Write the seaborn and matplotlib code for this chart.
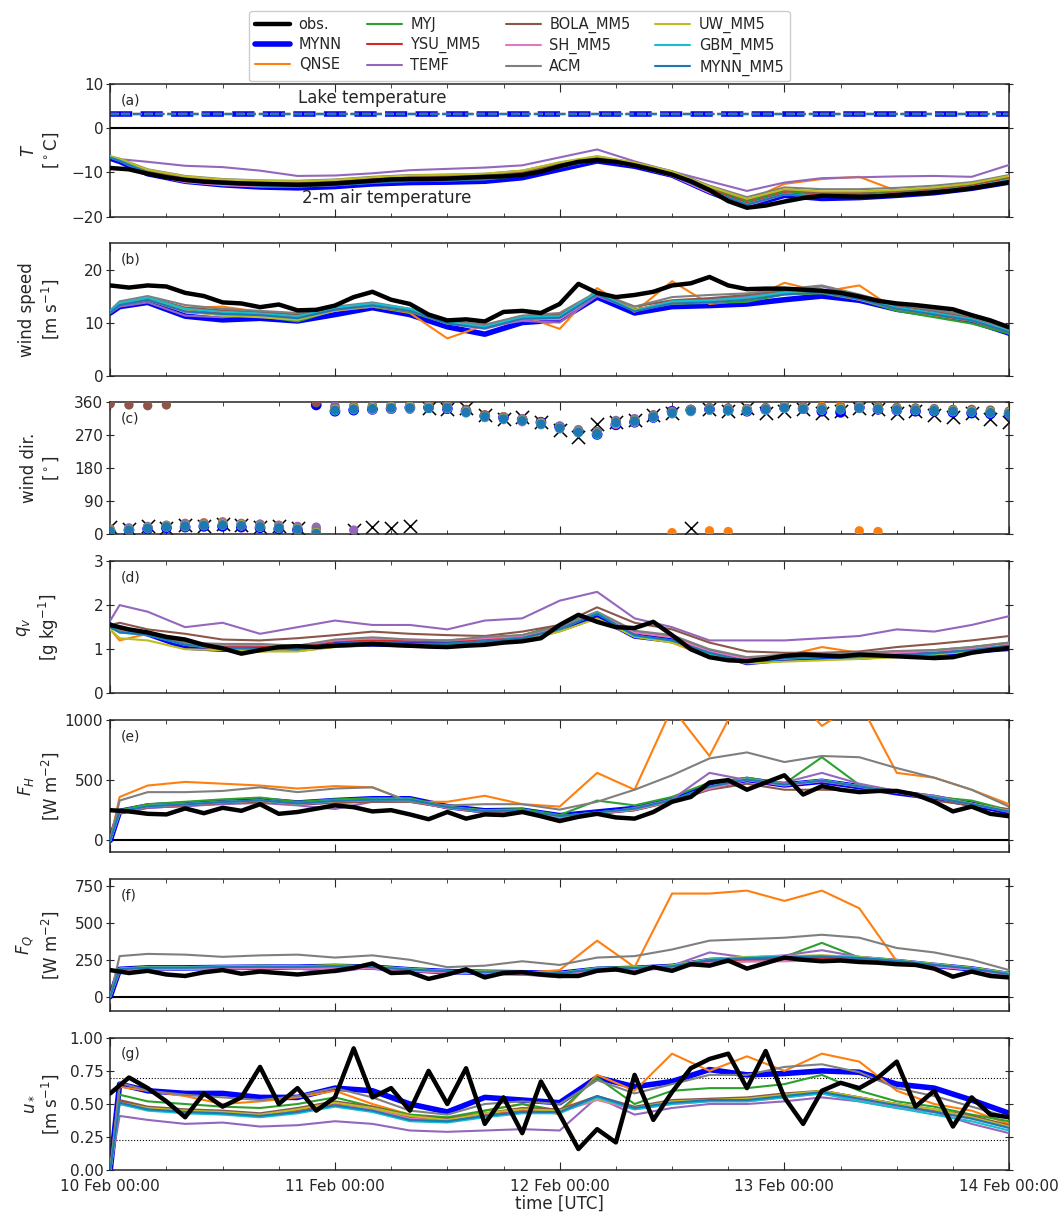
import numpy as np
import pandas as pd
import matplotlib
matplotlib.use('Agg')
import matplotlib.pyplot as plt
import matplotlib.dates as mdates
from matplotlib.lines import Line2D
import seaborn as sns

nan = np.nan
START = '2013-02-10 00:00'
OBS_HOURS = list(range(0, 97, 2))
MOD_HOURS = [0, 1, 4, 8, 12, 16, 20, 24, 28, 32, 36, 40, 44, 48, 52, 56, 60, 64, 68, 72, 76, 80, 84, 88, 92, 96]

MODELS = ['MYNN', 'QNSE', 'MYJ', 'YSU_MM5', 'TEMF', 'BOLA_MM5', 'SH_MM5',
          'ACM', 'UW_MM5', 'GBM_MM5', 'MYNN_MM5']
COLORS = ['#0000ff', '#ff7f0e', '#2ca02c', '#d62728', '#9467bd', '#8c564b',
          '#e377c2', '#7f7f7f', '#bcbd22', '#17becf', '#1f77b4']

# (a) lake + 2-m air temperature [C]
LAKE_T = [3.3, 3.3, 3.3, 3.3, 3.3, 3.3, 3.3, 3.3, 3.3, 3.3, 3.3]
T_OBS = [-9.0, -9.3, -10.3, -11.1, -11.7, -12.1, -12.3, -12.5, -12.6, -12.7,
         -12.8, -12.7, -12.5, -12.2, -11.9, -11.6, -11.5, -11.5, -11.4, -11.2,
         -11.0, -10.9, -10.6, -9.8, -8.6, -7.6, -7.2, -7.6, -8.4, -9.4,
         -10.5, -12.0, -14.0, -16.5, -18.0, -17.5, -16.6, -15.8, -15.3, -15.4,
         -15.5, -15.4, -15.1, -14.8, -14.5, -14.1, -13.6, -12.9, -12.2]
T_MOD = {
    'MYNN':     [-6.8, -7.5, -10.3, -12.0, -12.8, -13.3, -13.5, -13.2, -12.6, -12.3, -12.2, -12.0, -11.2, -9.3, -7.4, -8.6, -10.6, -14.4, -17.6, -15.2, -15.9, -15.7, -15.2, -14.6, -13.6, -12.2],
    'QNSE':     [-6.5, -7.1, -9.7, -11.2, -11.9, -12.2, -12.3, -12.0, -11.4, -11.0, -10.7, -10.5, -9.8, -8.1, -6.6, -8.0, -10.1, -13.6, -16.5, -12.6, -11.5, -11.0, -14.2, -13.8, -12.8, -11.0],
    'MYJ':      [-6.5, -7.2, -9.9, -11.4, -12.1, -12.5, -12.6, -12.3, -11.8, -11.4, -11.2, -10.9, -10.1, -8.2, -6.7, -8.1, -10.1, -13.6, -16.6, -14.3, -14.9, -14.8, -14.4, -13.8, -12.9, -11.2],
    'YSU_MM5':  [-6.6, -7.3, -10.0, -11.6, -12.3, -12.7, -12.8, -12.5, -12.0, -11.6, -11.5, -11.2, -10.4, -8.5, -6.9, -8.3, -10.3, -13.9, -17.0, -14.7, -15.3, -15.1, -14.7, -14.1, -13.1, -11.5],
    'TEMF':     [-6.5, -7.0, -7.6, -8.5, -8.8, -9.6, -10.8, -10.7, -10.2, -9.5, -9.2, -8.9, -8.4, -6.6, -4.8, -7.5, -9.8, -12.0, -14.2, -12.3, -11.3, -11.1, -10.9, -10.8, -11.0, -8.3],
    'BOLA_MM5': [-6.4, -7.0, -9.6, -11.1, -11.8, -12.1, -12.2, -11.9, -11.3, -10.9, -10.8, -10.6, -9.9, -8.0, -6.5, -7.9, -9.9, -13.3, -16.2, -14.0, -14.6, -14.5, -14.1, -13.5, -12.6, -10.9],
    'SH_MM5':   [-6.6, -7.4, -10.4, -12.2, -12.9, -13.2, -13.2, -12.9, -12.3, -11.9, -11.8, -11.5, -10.7, -8.8, -7.1, -8.6, -10.8, -14.6, -17.5, -15.0, -15.5, -15.3, -14.8, -14.2, -13.3, -11.7],
    'ACM':      [-6.4, -6.9, -9.3, -10.8, -11.5, -11.8, -11.9, -11.6, -11.0, -10.6, -10.5, -10.3, -9.6, -7.8, -6.4, -7.8, -9.7, -13.0, -15.6, -13.4, -13.8, -13.8, -13.5, -13.0, -12.2, -10.6],
    'UW_MM5':   [-6.3, -6.9, -9.4, -10.9, -11.6, -11.9, -12.0, -11.7, -11.1, -10.7, -10.5, -10.3, -9.6, -7.7, -6.3, -7.8, -9.8, -13.2, -16.0, -13.8, -14.3, -14.3, -14.0, -13.4, -12.5, -10.8],
    'GBM_MM5':  [-6.6, -7.3, -10.1, -11.8, -12.5, -12.9, -13.0, -12.7, -12.2, -11.8, -11.7, -11.4, -10.6, -8.7, -7.0, -8.4, -10.5, -14.2, -17.2, -14.9, -15.5, -15.3, -14.9, -14.3, -13.3, -11.7],
    'MYNN_MM5': [-6.7, -7.4, -10.2, -11.9, -12.6, -13.0, -13.1, -12.9, -12.4, -12.0, -11.9, -11.6, -10.8, -8.9, -7.1, -8.5, -10.6, -14.3, -17.3, -15.0, -15.6, -15.4, -15.0, -14.4, -13.4, -11.9],
}

# (b) wind speed [m/s]
WS_OBS = [17.0, 16.6, 17.0, 16.8, 15.6, 15.0, 13.8, 13.6, 12.9, 13.4,
          12.3, 12.4, 13.2, 14.8, 15.8, 14.3, 13.5, 11.5, 10.4, 10.6,
          10.2, 12.0, 12.2, 11.8, 13.5, 17.3, 15.6, 14.8, 15.2, 15.8,
          17.0, 17.4, 18.6, 17.0, 16.3, 16.4, 16.4, 16.2, 16.0, 15.6,
          14.9, 14.1, 13.6, 13.3, 12.9, 12.5, 11.4, 10.4, 9.1]
WS_MOD = {
    'MYNN':     [11.8, 13.0, 13.8, 11.2, 10.5, 10.8, 10.3, 11.5, 12.8, 11.5, 9.2, 7.8, 10.0, 10.5, 14.8, 11.8, 13.0, 13.2, 13.5, 14.3, 15.0, 14.2, 12.5, 11.5, 10.3, 8.0],
    'QNSE':     [12.0, 13.6, 14.6, 12.8, 13.0, 12.0, 11.2, 12.3, 13.0, 11.8, 7.0, 9.5, 11.3, 8.8, 16.5, 12.0, 17.8, 13.5, 14.2, 17.5, 15.8, 17.0, 12.3, 11.3, 10.3, 8.0],
    'MYJ':      [11.9, 13.3, 14.2, 12.0, 11.5, 11.2, 10.2, 12.3, 13.0, 12.0, 9.8, 9.3, 11.0, 11.2, 15.2, 12.5, 13.5, 13.7, 13.9, 15.3, 15.5, 14.3, 12.2, 11.0, 9.8, 7.9],
    'YSU_MM5':  [12.1, 13.5, 14.5, 12.4, 11.8, 11.6, 10.8, 12.5, 13.3, 12.3, 10.0, 9.0, 10.8, 11.0, 15.5, 12.4, 13.8, 13.9, 14.5, 15.5, 15.8, 14.5, 12.7, 11.5, 10.4, 8.2],
    'TEMF':     [11.8, 13.0, 13.8, 11.3, 11.0, 11.5, 10.8, 12.2, 13.0, 12.4, 10.0, 9.2, 10.3, 10.0, 15.0, 12.3, 14.0, 14.4, 15.0, 16.0, 16.8, 15.2, 13.5, 12.4, 11.2, 8.4],
    'BOLA_MM5': [12.2, 13.8, 14.8, 12.8, 12.3, 12.0, 11.5, 12.8, 13.5, 12.5, 10.2, 9.4, 11.2, 11.5, 15.6, 13.0, 14.2, 14.6, 15.2, 16.0, 16.2, 14.8, 13.2, 12.2, 10.8, 8.2],
    'SH_MM5':   [12.0, 13.4, 14.3, 12.0, 11.5, 11.3, 10.6, 12.2, 13.2, 12.2, 9.8, 8.8, 10.6, 10.6, 15.3, 12.2, 13.6, 13.8, 14.4, 15.4, 15.7, 14.3, 12.6, 11.6, 10.4, 8.3],
    'ACM':      [12.3, 14.0, 15.0, 13.3, 12.6, 12.2, 11.8, 13.0, 13.8, 12.6, 10.3, 9.6, 11.3, 11.8, 15.8, 13.0, 14.8, 15.2, 15.5, 16.3, 17.0, 15.3, 13.4, 12.4, 11.2, 8.6],
    'UW_MM5':   [12.0, 13.5, 14.4, 12.3, 11.3, 11.0, 10.5, 12.3, 13.1, 12.3, 10.0, 9.1, 10.8, 11.0, 15.4, 12.4, 13.7, 13.8, 14.4, 15.5, 15.8, 14.5, 12.7, 11.6, 10.5, 8.3],
    'GBM_MM5':  [12.1, 13.7, 14.7, 12.6, 12.0, 11.7, 11.2, 12.8, 13.6, 12.6, 10.1, 9.2, 11.0, 11.2, 15.7, 12.2, 14.0, 14.2, 14.7, 15.7, 16.2, 14.7, 12.8, 11.8, 10.6, 8.4],
    'MYNN_MM5': [11.9, 13.3, 14.3, 12.1, 11.6, 11.4, 10.8, 12.4, 13.2, 12.2, 9.8, 8.9, 10.7, 10.9, 15.3, 12.1, 13.6, 13.8, 14.3, 15.3, 15.7, 14.4, 12.6, 11.5, 10.4, 8.2],
}

# (c) wind direction [deg], every 2 h
WD_OBS = [20, 15, 22, 18, 25, 22, 28, 25, 20, 22,
          18, nan, nan, 12, 20, 18, 22, 345, 340, 345,
          325, 315, 320, 305, 285, 265, 300, 305, 310, 325,
          330, 18, 340, 335, 345, 330, 335, 340, 330, 335,
          345, 340, 330, 335, 325, 320, 330, 315, 305]
WD_MOD = {
    'MYNN':     [8, 12, 15, 18, 20, 22, 22, 20, 18, 15, 12, 352, 335, 338, 340, 342, 345, 345, 342, 335, 322, 318, 312, 305, 292, 280, 272, 298, 305, 318, 335, 338, 340, 338, 335, 340, 345, 342, 335, 332, 345, 340, 338, 335, 335, 332, 330, 328, 328],
    'QNSE':     [12, 15, 20, 25, 30, 32, 35, 30, 28, 25, 20, 15, 345, 348, 348, 350, 350, 352, 350, 338, 325, 320, 315, 302, 290, 280, 278, 300, 310, 320, 5, 335, 10, 8, 342, 340, 350, 345, 348, 350, 10, 8, 345, 342, 340, 338, 338, 336, 335],
    'MYJ':      [10, 13, 18, 22, 25, 27, 28, 26, 22, 20, 15, 5, 340, 343, 345, 346, 346, 345, 343, 332, 318, 314, 308, 300, 288, 278, 275, 302, 308, 320, 330, 336, 340, 340, 338, 340, 345, 342, 340, 342, 345, 342, 340, 340, 338, 336, 335, 332, 330],
    'YSU_MM5':  [10, 14, 20, 24, 26, 28, 30, 27, 24, 21, 16, 8, 342, 345, 346, 348, 348, 346, 344, 334, 320, 316, 310, 302, 290, 280, 276, 306, 310, 322, 332, 338, 342, 341, 340, 342, 346, 344, 342, 344, 347, 344, 342, 341, 340, 338, 336, 334, 332],
    'TEMF':     [15, 18, 22, 25, 30, 31, 32, 30, 28, 25, 22, 20, 350, 12, 338, 340, 340, 345, 348, 336, 322, 318, 315, 305, 295, 285, 280, 310, 315, 325, 333, 336, 338, 337, 336, 340, 343, 341, 339, 341, 344, 341, 338, 337, 336, 335, 334, 332, 330],
    'BOLA_MM5': [355, 352, 350, 352, 20, 25, 26, 24, 22, 18, 10, 358, 345, 348, 350, 352, 352, 350, 350, 340, 325, 318, 312, 305, 292, 282, 278, 308, 312, 325, 335, 340, 345, 344, 342, 345, 350, 348, 345, 347, 350, 348, 345, 344, 342, 340, 340, 338, 335],
    'SH_MM5':   [8, 11, 16, 20, 22, 24, 25, 23, 20, 17, 14, 2, 338, 341, 342, 344, 344, 343, 342, 330, 318, 312, 306, 298, 287, 276, 273, 300, 305, 318, 328, 334, 338, 337, 336, 338, 343, 340, 338, 339, 342, 340, 338, 337, 336, 334, 333, 330, 328],
    'ACM':      [12, 15, 20, 24, 26, 28, 30, 28, 25, 22, 18, 10, 343, 346, 348, 350, 350, 349, 348, 336, 322, 318, 312, 304, 292, 282, 277, 308, 312, 324, 334, 340, 344, 343, 342, 344, 348, 346, 344, 346, 348, 346, 344, 342, 340, 338, 337, 335, 333],
    'UW_MM5':   [10, 13, 18, 22, 24, 26, 28, 26, 22, 19, 15, 5, 340, 343, 344, 346, 346, 345, 344, 333, 320, 315, 310, 302, 289, 279, 275, 304, 308, 320, 330, 336, 340, 339, 338, 340, 345, 342, 340, 342, 345, 342, 340, 339, 338, 336, 335, 333, 331],
    'GBM_MM5':  [8, 11, 16, 20, 22, 24, 26, 24, 20, 17, 13, 0, 336, 339, 340, 343, 343, 342, 343, 331, 318, 313, 308, 299, 288, 277, 272, 302, 306, 318, 328, 334, 338, 336, 335, 338, 343, 340, 338, 339, 343, 340, 338, 337, 336, 334, 332, 330, 328],
    'MYNN_MM5': [9, 12, 17, 21, 23, 25, 26, 24, 21, 18, 14, 3, 338, 341, 342, 344, 344, 343, 344, 332, 320, 314, 309, 300, 289, 278, 274, 304, 308, 320, 330, 336, 340, 338, 337, 340, 344, 341, 339, 340, 344, 341, 339, 338, 337, 335, 333, 331, 329],
}

# (d) specific humidity [g/kg]
QV_OBS = [1.55, 1.45, 1.38, 1.28, 1.22, 1.1, 1.02, 0.9, 0.98, 1.05,
          1.07, 1.05, 1.08, 1.1, 1.12, 1.1, 1.08, 1.06, 1.05, 1.08,
          1.1, 1.15, 1.18, 1.25, 1.55, 1.78, 1.62, 1.5, 1.48, 1.62,
          1.32, 1.0, 0.82, 0.75, 0.73, 0.78, 0.85, 0.88, 0.86, 0.84,
          0.88, 0.86, 0.84, 0.82, 0.8, 0.82, 0.92, 0.98, 1.03]
QV_MOD = {
    'MYNN':     [1.55, 1.45, 1.35, 1.05, 1.0, 1.0, 1.0, 1.1, 1.12, 1.1, 1.12, 1.18, 1.25, 1.45, 1.75, 1.3, 1.2, 0.95, 0.7, 0.78, 0.82, 0.82, 0.88, 0.9, 0.96, 1.02],
    'QNSE':     [1.45, 1.2, 1.35, 1.1, 1.0, 0.95, 1.0, 1.1, 1.15, 1.08, 1.1, 1.18, 1.22, 1.45, 1.82, 1.32, 1.15, 0.82, 0.72, 0.85, 1.05, 0.92, 0.88, 0.9, 0.95, 1.08],
    'MYJ':      [1.5, 1.42, 1.35, 1.15, 1.1, 1.1, 1.05, 1.2, 1.25, 1.2, 1.2, 1.25, 1.32, 1.55, 1.82, 1.4, 1.3, 0.95, 0.8, 0.85, 0.88, 0.9, 0.95, 0.98, 1.05, 1.15],
    'YSU_MM5':  [1.52, 1.43, 1.38, 1.13, 1.08, 1.08, 1.05, 1.18, 1.2, 1.18, 1.18, 1.22, 1.28, 1.5, 1.8, 1.38, 1.28, 0.95, 0.78, 0.85, 0.9, 0.9, 0.95, 0.96, 1.02, 1.1],
    'TEMF':     [1.65, 2.0, 1.85, 1.5, 1.6, 1.35, 1.5, 1.65, 1.55, 1.55, 1.45, 1.65, 1.7, 2.1, 2.3, 1.7, 1.5, 1.2, 1.2, 1.2, 1.25, 1.3, 1.45, 1.4, 1.55, 1.75],
    'BOLA_MM5': [1.55, 1.6, 1.45, 1.35, 1.22, 1.2, 1.25, 1.32, 1.4, 1.35, 1.32, 1.3, 1.4, 1.55, 1.95, 1.6, 1.45, 1.15, 0.95, 0.92, 0.92, 0.95, 1.05, 1.12, 1.2, 1.3],
    'SH_MM5':   [1.5, 1.4, 1.35, 1.15, 1.1, 1.1, 1.08, 1.2, 1.25, 1.22, 1.2, 1.25, 1.3, 1.5, 1.8, 1.38, 1.27, 0.95, 0.78, 0.85, 0.9, 0.88, 0.92, 0.96, 1.02, 1.1],
    'ACM':      [1.52, 1.42, 1.37, 1.15, 1.12, 1.12, 1.08, 1.22, 1.27, 1.22, 1.2, 1.28, 1.32, 1.52, 1.85, 1.42, 1.32, 1.0, 0.82, 0.88, 0.9, 0.92, 0.96, 0.98, 1.05, 1.15],
    'UW_MM5':   [1.45, 1.25, 1.2, 1.0, 0.98, 0.95, 0.95, 1.05, 1.1, 1.08, 1.08, 1.12, 1.18, 1.4, 1.7, 1.28, 1.15, 0.88, 0.68, 0.72, 0.75, 0.78, 0.82, 0.88, 0.95, 1.05],
    'GBM_MM5':  [1.5, 1.38, 1.32, 1.1, 1.03, 1.0, 1.0, 1.12, 1.15, 1.12, 1.12, 1.18, 1.25, 1.45, 1.82, 1.3, 1.2, 0.9, 0.72, 0.78, 0.82, 0.82, 0.86, 0.9, 0.98, 1.08],
    'MYNN_MM5': [1.5, 1.38, 1.33, 1.1, 1.03, 1.02, 1.0, 1.12, 1.15, 1.12, 1.13, 1.18, 1.25, 1.46, 1.8, 1.32, 1.2, 0.92, 0.73, 0.8, 0.82, 0.83, 0.87, 0.91, 0.98, 1.08],
}

# (e) sensible heat flux [W/m2]
FH_OBS = [250, 240, 220, 215, 265, 225, 270, 245, 300, 220,
          235, nan, 290, 275, 240, 250, 215, 175, 235, 180,
          215, 210, 235, 200, 160, 195, 220, 190, 180, 235,
          320, 360, 480, 500, 420, nan, 540, 380, 450, 420,
          400, 410, 410, 380, 320, 240, 280, 220, 200]
FH_MOD = {
    'MYNN':     [0, 240, 285, 300, 320, 335, 310, 330, 345, 345, 280, 245, 250, 205, 235, 265, 340, 450, 505, 460, 490, 445, 395, 355, 300, 235],
    'QNSE':     [0, 360, 455, 485, 470, 455, 430, 450, 440, 320, 320, 370, 300, 280, 560, 420, 1100, 700, 1300, 1300, 950, 1150, 560, 520, 420, 300],
    'MYJ':      [0, 250, 300, 320, 340, 355, 320, 340, 350, 350, 280, 250, 260, 210, 330, 290, 360, 480, 520, 470, 690, 460, 400, 360, 330, 250],
    'YSU_MM5':  [0, 235, 280, 295, 315, 330, 305, 325, 335, 335, 275, 240, 245, 200, 230, 260, 330, 440, 505, 465, 495, 450, 400, 360, 305, 240],
    'TEMF':     [0, 220, 270, 285, 300, 310, 290, 260, 320, 320, 270, 230, 240, 185, 220, 270, 340, 560, 500, 480, 560, 470, 410, 370, 300, 245],
    'BOLA_MM5': [0, 225, 275, 290, 310, 320, 300, 310, 320, 320, 270, 235, 240, 195, 220, 250, 320, 420, 470, 420, 420, 415, 400, 330, 290, 260],
    'SH_MM5':   [0, 230, 280, 295, 315, 330, 300, 325, 335, 330, 270, 240, 240, 195, 225, 255, 325, 430, 500, 455, 490, 445, 395, 355, 300, 235],
    'ACM':      [0, 330, 400, 400, 410, 440, 400, 430, 440, 320, 290, 300, 300, 255, 320, 420, 540, 680, 730, 650, 700, 690, 600, 520, 420, 280],
    'UW_MM5':   [0, 235, 285, 300, 320, 330, 305, 325, 335, 340, 275, 245, 245, 200, 230, 260, 330, 445, 510, 465, 500, 450, 400, 360, 305, 245],
    'GBM_MM5':  [0, 240, 285, 300, 318, 332, 305, 328, 338, 340, 275, 242, 248, 200, 230, 262, 335, 445, 508, 462, 498, 450, 400, 358, 302, 240],
    'MYNN_MM5': [0, 238, 283, 298, 318, 332, 306, 327, 337, 338, 276, 243, 247, 202, 232, 263, 333, 445, 505, 463, 495, 448, 398, 356, 300, 238],
}

# (f) latent heat flux [W/m2]
FQ_OBS = [180, 160, 175, 150, 140, 165, 180, 155, 170, 160,
          150, nan, 175, 195, 225, 160, 165, 120, 150, 185,
          130, 160, 165, 150, 140, 140, 175, 185, 160, 200,
          175, 220, 210, 245, 190, nan, 265, 250, 240, 245,
          235, 230, 220, 215, 190, 135, 170, 140, 130]
FQ_MOD = {
    'MYNN':     [0, 185, 195, 195, 198, 200, 200, 205, 200, 182, 170, 165, 162, 158, 185, 192, 205, 245, 255, 262, 265, 258, 238, 212, 188, 150],
    'QNSE':     [0, 185, 195, 190, 195, 200, 190, 200, 195, 175, 165, 170, 160, 180, 380, 200, 700, 700, 720, 650, 720, 600, 240, 220, 190, 150],
    'MYJ':      [0, 190, 200, 200, 205, 210, 205, 215, 205, 190, 175, 170, 168, 160, 195, 200, 210, 250, 265, 270, 365, 265, 245, 220, 195, 160],
    'YSU_MM5':  [0, 182, 192, 193, 196, 198, 198, 202, 198, 180, 168, 163, 160, 155, 182, 188, 200, 240, 250, 258, 262, 255, 235, 210, 186, 148],
    'TEMF':     [0, 170, 180, 190, 195, 200, 190, 165, 200, 185, 170, 160, 150, 130, 175, 190, 210, 300, 265, 280, 315, 270, 240, 210, 185, 150],
    'BOLA_MM5': [0, 180, 190, 190, 192, 195, 195, 200, 195, 178, 166, 162, 158, 152, 180, 186, 195, 230, 240, 245, 250, 245, 230, 208, 185, 145],
    'SH_MM5':   [0, 178, 188, 188, 190, 192, 192, 195, 190, 175, 162, 158, 155, 150, 175, 182, 192, 228, 238, 240, 245, 240, 225, 205, 182, 145],
    'ACM':      [0, 275, 290, 285, 270, 280, 285, 265, 280, 250, 200, 210, 240, 215, 265, 275, 320, 380, 390, 400, 420, 400, 330, 300, 250, 180],
    'UW_MM5':   [0, 190, 200, 200, 205, 208, 205, 212, 205, 188, 175, 170, 168, 162, 192, 198, 212, 255, 270, 275, 280, 270, 248, 222, 196, 160],
    'GBM_MM5':  [0, 188, 198, 198, 202, 205, 203, 208, 202, 186, 174, 168, 165, 160, 190, 196, 208, 252, 265, 272, 276, 265, 245, 218, 192, 155],
    'MYNN_MM5': [0, 186, 196, 196, 200, 202, 200, 206, 200, 184, 172, 166, 163, 158, 188, 194, 205, 248, 260, 268, 272, 262, 242, 215, 190, 152],
}

# (g) friction velocity [m/s]
US_OBS = [0.58, 0.7, 0.62, 0.52, 0.4, 0.58, 0.48, 0.55, 0.78, 0.5,
          0.62, 0.45, 0.55, 0.92, 0.55, 0.62, 0.45, 0.75, 0.5, 0.77,
          0.35, 0.55, 0.28, 0.67, 0.42, 0.16, 0.31, 0.21, 0.72, 0.38,
          0.59, 0.77, 0.84, 0.88, 0.62, 0.9, 0.55, 0.35, 0.6, 0.66,
          0.62, 0.7, 0.82, 0.48, 0.6, 0.33, 0.55, 0.42, 0.4]
US_MOD = {
    'MYNN':     [0, 0.65, 0.6, 0.58, 0.58, 0.55, 0.55, 0.62, 0.6, 0.5, 0.44, 0.55, 0.53, 0.51, 0.7, 0.63, 0.67, 0.76, 0.72, 0.73, 0.75, 0.74, 0.65, 0.62, 0.53, 0.43],
    'QNSE':     [0, 0.63, 0.6, 0.56, 0.5, 0.52, 0.55, 0.6, 0.5, 0.42, 0.38, 0.45, 0.5, 0.42, 0.72, 0.6, 0.88, 0.75, 0.86, 0.75, 0.88, 0.82, 0.6, 0.5, 0.45, 0.35],
    'MYJ':      [0, 0.57, 0.52, 0.5, 0.48, 0.47, 0.5, 0.55, 0.48, 0.42, 0.4, 0.45, 0.5, 0.45, 0.7, 0.5, 0.6, 0.62, 0.62, 0.65, 0.72, 0.6, 0.52, 0.48, 0.42, 0.37],
    'YSU_MM5':  [0, 0.52, 0.47, 0.45, 0.44, 0.42, 0.45, 0.5, 0.46, 0.4, 0.38, 0.42, 0.45, 0.45, 0.55, 0.47, 0.52, 0.53, 0.53, 0.56, 0.6, 0.55, 0.5, 0.45, 0.4, 0.33],
    'TEMF':     [0, 0.41, 0.38, 0.35, 0.36, 0.33, 0.34, 0.37, 0.35, 0.3, 0.29, 0.3, 0.31, 0.3, 0.55, 0.42, 0.47, 0.5, 0.5, 0.52, 0.55, 0.52, 0.47, 0.44, 0.35, 0.28],
    'BOLA_MM5': [0, 0.53, 0.48, 0.46, 0.45, 0.43, 0.47, 0.52, 0.48, 0.41, 0.39, 0.43, 0.47, 0.46, 0.56, 0.48, 0.53, 0.54, 0.55, 0.58, 0.6, 0.55, 0.5, 0.46, 0.41, 0.34],
    'SH_MM5':   [0, 0.5, 0.46, 0.44, 0.43, 0.41, 0.44, 0.49, 0.46, 0.39, 0.37, 0.41, 0.44, 0.44, 0.53, 0.46, 0.5, 0.52, 0.52, 0.55, 0.58, 0.53, 0.48, 0.44, 0.39, 0.32],
    'ACM':      [0, 0.66, 0.6, 0.57, 0.55, 0.53, 0.56, 0.62, 0.55, 0.45, 0.42, 0.5, 0.52, 0.5, 0.68, 0.58, 0.65, 0.72, 0.72, 0.78, 0.8, 0.74, 0.62, 0.56, 0.48, 0.4],
    'UW_MM5':   [0, 0.51, 0.47, 0.45, 0.44, 0.42, 0.46, 0.51, 0.47, 0.41, 0.38, 0.43, 0.46, 0.45, 0.54, 0.47, 0.52, 0.53, 0.54, 0.57, 0.6, 0.55, 0.5, 0.46, 0.4, 0.33],
    'GBM_MM5':  [0, 0.5, 0.45, 0.43, 0.42, 0.4, 0.43, 0.48, 0.44, 0.37, 0.36, 0.4, 0.43, 0.43, 0.55, 0.46, 0.5, 0.52, 0.52, 0.55, 0.58, 0.52, 0.47, 0.42, 0.37, 0.3],
    'MYNN_MM5': [0, 0.51, 0.46, 0.44, 0.43, 0.41, 0.44, 0.49, 0.45, 0.38, 0.37, 0.41, 0.44, 0.44, 0.56, 0.47, 0.51, 0.53, 0.53, 0.56, 0.59, 0.54, 0.49, 0.44, 0.39, 0.32],
}
US_REF = [0.7, 0.23]

sns.set_style('ticks')
plt.rcParams['font.family'] = ['DejaVu Sans']
plt.rcParams['axes.linewidth'] = 1.1

t0 = pd.Timestamp(START)
t_obs = t0 + pd.to_timedelta(OBS_HOURS, unit='h')
t_mod = t0 + pd.to_timedelta(MOD_HOURS, unit='h')
LW = {m: 1.5 for m in MODELS}
LW['MYNN'] = 4.0


def draw_lines(ax, obs, mods):
    sns.lineplot(x=t_obs, y=obs, ax=ax, color='k', lw=3.2, zorder=3)
    for m, c in zip(MODELS, COLORS):
        sns.lineplot(x=t_mod, y=mods[m], ax=ax, color=c, lw=LW[m],
                     zorder=2.5 if m == 'MYNN' else 2.6)


fig, axes = plt.subplots(7, 1, figsize=(10.6, 12.19), dpi=100, sharex=True)
fig.subplots_adjust(left=0.104, right=0.952, top=0.931, bottom=0.040, hspace=0.2)

# (a)
ax = axes[0]
for m, c, v in zip(MODELS, COLORS, LAKE_T):
    lw = 4 if m == 'MYNN' else 1.5
    sns.lineplot(x=[t_mod[0], t_mod[-1]], y=[v, v], ax=ax, color=c, lw=lw,
                 linestyle=(0, (4, 1.5)))
draw_lines(ax, T_OBS, T_MOD)
ax.axhline(0, color='k', lw=1.5)
ax.set_ylim(-20, 10)
ax.set_yticks([-20, -10, 0, 10])
ax.set_ylabel('$T$\n[$^\\circ$C]')
ax.text(t0 + pd.Timedelta(hours=28), 6.8, 'Lake temperature', ha='center',
        va='center', fontsize=12)
ax.text(t0 + pd.Timedelta(hours=29.5), -15.8, '2-m air temperature',
        ha='center', va='center', fontsize=12)

# (b)
ax = axes[1]
draw_lines(ax, WS_OBS, WS_MOD)
ax.set_ylim(0, 25)
ax.set_yticks([0, 10, 20])
ax.set_ylabel('wind speed\n[m s$^{-1}$]')

# (c)
ax = axes[2]
sns.scatterplot(x=t_obs, y=WD_OBS, ax=ax, color='k', marker='x', s=90,
                linewidth=1.1, zorder=2)
for m, c in zip(MODELS, COLORS):
    sns.scatterplot(x=t_obs, y=WD_MOD[m], ax=ax, color=c,
                    s=60 if m == 'MYNN' else 45, edgecolor='none', zorder=3)
ax.set_ylim(0, 360)
ax.set_yticks([0, 90, 180, 270, 360])
ax.set_ylabel('wind dir.\n[$^\\circ$]')

# (d)
ax = axes[3]
draw_lines(ax, QV_OBS, QV_MOD)
ax.set_ylim(0, 3)
ax.set_yticks([0, 1, 2, 3])
ax.set_ylabel('$q_v$\n[g kg$^{-1}$]')

# (e)
ax = axes[4]
draw_lines(ax, FH_OBS, FH_MOD)
ax.axhline(0, color='k', lw=1.5)
ax.set_ylim(-100, 1000)
ax.set_yticks([0, 500, 1000])
ax.set_ylabel('$F_H$\n[W m$^{-2}$]')

# (f)
ax = axes[5]
draw_lines(ax, FQ_OBS, FQ_MOD)
ax.axhline(0, color='k', lw=1.5)
ax.set_ylim(-100, 800)
ax.set_yticks([0, 250, 500, 750])
ax.set_ylabel('$F_Q$\n[W m$^{-2}$]')

# (g)
ax = axes[6]
draw_lines(ax, US_OBS, US_MOD)
for v in US_REF:
    ax.axhline(v, color='k', lw=0.8, ls=':')
ax.set_ylim(0, 1)
ax.set_yticks([0, 0.25, 0.5, 0.75, 1.0])
ax.yaxis.set_major_formatter(matplotlib.ticker.FormatStrFormatter('%.2f'))
ax.set_ylabel('$u_*$\n[m s$^{-1}$]')
ax.set_xlabel('time [UTC]', fontsize=12, labelpad=1)

for ax, lab in zip(axes, 'abcdefg'):
    ax.set_xlim(t_mod[0], t_mod[-1])
    ax.text(0.012, 0.93, f'({lab})', transform=ax.transAxes, va='top',
            ha='left', fontsize=10)
    ax.xaxis.set_major_locator(mdates.DayLocator())
    ax.xaxis.set_minor_locator(mdates.HourLocator(byhour=[6, 12, 18]))
    ax.xaxis.set_major_formatter(mdates.DateFormatter('%d %b %H:%M'))
    ax.tick_params(axis='x', which='major', direction='in', length=6,
                   top=True, bottom=True, labelsize=11, pad=6)
    ax.tick_params(axis='x', which='minor', direction='in', length=3,
                   top=True, bottom=True)
    ax.tick_params(axis='y', direction='inout', length=6, left=True,
                   right=True, labelsize=11, pad=2)
    ax.yaxis.label.set_size(12)
    ax.yaxis.labelpad = 3
    for s in ax.spines.values():
        s.set_visible(True)

fig.align_ylabels(axes)

handles = [Line2D([], [], color='k', lw=3.2)]
labels = ['obs.']
for m, c in zip(MODELS, COLORS):
    handles.append(Line2D([], [], color=c, lw=LW[m]))
    labels.append(m)
fig.legend(handles, labels, ncol=4, loc='upper center',
           bbox_to_anchor=(0.49, 0.997), fontsize=10.5, handlelength=2.4,
           handletextpad=0.6, columnspacing=1.7, labelspacing=0.35,
           framealpha=1, edgecolor='#cccccc')

fig.savefig('out.png', dpi=100)
